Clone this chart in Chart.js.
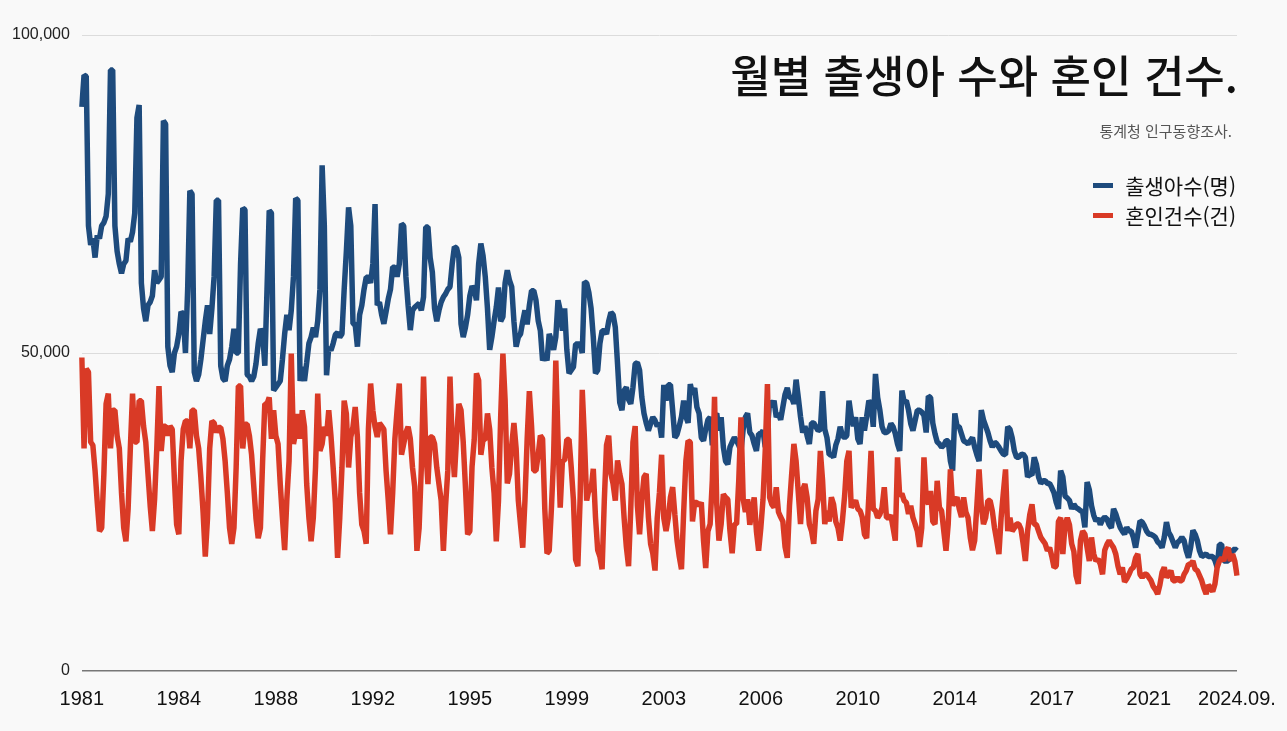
<!DOCTYPE html>
<html lang="ko">
<head>
<meta charset="UTF-8">
<title>월별 출생아 수와 혼인 건수</title>
<script src="https://cdn.jsdelivr.net/npm/chart.js"></script>
<style>
    html, body { margin: 0; padding: 0; background: #f9f9f9; }
    #wrap { position: relative; width: 1287px; height: 731px; }
    #title {
        position: absolute; right: 49px; top: 52px;
        font-family: "Noto Sans CJK KR", "Noto Sans", sans-serif;
        font-size: 44px; line-height: 1; font-weight: 500; color: #111;
        white-space: nowrap;
    }
    #source {
        position: absolute; right: 55px; top: 123px;
        font-family: "Noto Sans CJK KR", sans-serif;
        font-size: 15px; line-height: 1; color: #555; white-space: nowrap;
    }
    #legend {
        position: absolute; right: 51px; top: 170px;
        font-family: "Noto Sans CJK KR", sans-serif;
        font-size: 21px; color: #111;
    }
    #legend div { display: flex; align-items: center; height: 30px; }
    #legend span.mark { display: inline-block; width: 20px; height: 5px; margin-right: 12px; }
</style>
</head>
<body>
<div id="wrap">
    <canvas id="chart"></canvas>
    <div id="title">월별 출생아 수와 혼인 건수.</div>
    <div id="source">통계청 인구동향조사.</div>
    <div id="legend">
        <div><span class="mark" style="background:#1e4b7d"></span>출생아수(명)</div>
        <div><span class="mark" style="background:#d93a26"></span>혼인건수(건)</div>
    </div>
</div>

<script>
    // monthly values, thousands, 1981.01 ~ 2024.09
    const births = [
        88.7, 93.7, 93.5, 70, 67, 68, 65, 68.5, 68, 70, 70.5, 71.5,          // 1981
        75, 94.5, 94.5, 70, 66, 64, 62.5, 64, 64.5, 68, 67.5, 69,            // 1982
        72, 87, 89, 61, 57, 55, 57.5, 58, 59, 63, 61, 61.5,                  // 1983
        62, 86.5, 86, 51, 48, 47, 50, 51, 53, 56.5, 56, 50,                  // 1984
        60, 75.5, 75, 47, 45.6, 46.6, 49, 52, 55, 57.5, 53, 57,              // 1985
        62, 74, 74, 48, 46, 45.6, 48, 49, 51, 53.8, 50, 50,                  // 1986
        64, 72.8, 72.5, 46.6, 46.3, 45.6, 46.3, 48.3, 51.5, 53.8, 53, 48,    // 1987
        60, 72.4, 72, 44.1, 44.6, 45.1, 45.6, 49, 53, 56, 53.6, 56.7,        // 1988
        62, 74.3, 74, 45.6, 47.8, 45.6, 48.5, 51.5, 52.5, 54, 52.5, 55,      // 1989
        60, 79.5, 70, 46.5, 50.9, 50.4, 51.5, 52.9, 53.2, 52.5, 53, 60,      // 1990
        66, 72.9, 70, 54.6, 54.5, 51, 56, 57.5, 60, 61.9, 61.9, 61,          // 1991
        64, 73.4, 57.5, 58, 56, 54.6, 56.5, 58.5, 60, 63.5, 63.5, 62,        // 1992
        64, 70.3, 70, 62, 57.5, 53.6, 56.7, 57.2, 57.5, 57.8, 56.7, 58.8,    // 1993
        69.8, 69.8, 65, 62.7, 57, 55, 56.7, 58, 58.8, 59.3, 60, 60.4,        // 1994
        64, 66.7, 66.5, 65, 54.6, 52.5, 54, 56, 59, 60.5, 60, 58.3,          // 1995
        64, 67.2, 65.3, 62, 57, 50.5, 52.5, 55, 57.2, 60.3, 55, 55.7,        // 1996
        61, 63, 61.4, 60.4, 55, 51, 52.5, 53, 55, 56.7, 54.5, 57.5,          // 1997
        59.8, 59.8, 58.3, 55.1, 53.5, 48.8, 49.9, 48.8, 53, 52, 50.5, 52.5,  // 1998
        58.3, 56.7, 53.5, 57, 50.5, 46.8, 47.3, 47.8, 51.4, 51.4, 51.4, 50,  // 1999
        61.2, 61, 59.5, 57, 52.5, 46.8, 47.3, 51.5, 53.5, 53.5, 53, 55,      // 2000
        56.4, 56, 54, 48.3, 42.2, 41, 44.1, 44.6, 42.7, 42, 44.6, 48.3,      // 2001
        48.5, 47.3, 43.1, 40.5, 39, 37.8, 38.9, 39.9, 39.4, 38.5, 39, 36.7,  // 2002
        45, 42.5, 45, 45, 41, 36.7, 37.2, 38.5, 40, 42.5, 40, 39,            // 2003
        45.1, 43.5, 44.5, 41.5, 40.5, 36.7, 36.2, 38, 39.5, 39.9, 35.5, 40,  // 2004
        40.5, 37.8, 39.9, 35.2, 33, 32.5, 35.2, 36, 36.7, 36.2, 35.5, 34.6,  // 2005
        38, 39.9, 40.5, 37.5, 37, 35.7, 34.6, 37.3, 37.3, 37.8, 35.2, 38,    // 2006
        42.5, 41.5, 42.5, 39.9, 40.5, 39.5, 41.5, 43.5, 44.5, 43, 43, 42,    // 2007
        45.8, 43, 40, 37.5, 38.5, 37, 35.7, 39, 39, 38.4, 37.8, 38,          // 2008
        44, 38, 36.7, 34, 34, 33.6, 35.5, 36.5, 38.4, 37, 36.7, 37,          // 2009
        42.5, 40, 38.5, 39.9, 36.5, 35.7, 39.9, 37.8, 40, 42.5, 42, 38.4,    // 2010
        46.7, 43, 41, 38.4, 37.5, 37.5, 37.8, 38.9, 38.4, 37.3, 35.7, 34.6,  // 2011
        44.1, 42.3, 42.5, 41, 38.9, 37.8, 39.4, 41, 41, 40.7, 40.2, 37.5,    // 2012
        43.2, 43, 39, 37.3, 36, 35.7, 35.2, 35.5, 36.2, 36.2, 33, 31.5,      // 2013
        40.5, 38.5, 38.4, 37.3, 36.2, 36, 35.7, 36.2, 36.7, 35.2, 34, 33,    // 2014
        41, 39.5, 38.5, 37.5, 36.2, 35.2, 36, 35.7, 35.2, 34.6, 34.1, 34,    // 2015
        38.4, 38, 36.7, 34.6, 33.6, 33.6, 34, 34.1, 33.6, 30.5, 31, 30.8,    // 2016
        33.6, 32.5, 30.5, 29.5, 29.9, 29.9, 29.5, 29.5, 28.8, 28, 26.5, 25.5,// 2017
        31.5, 30.5, 27.5, 27.2, 26.8, 25.5, 26.2, 25.7, 25.5, 25.2, 25, 22.6,// 2018
        29.7, 28.5, 26, 24.5, 23.6, 24, 23, 23.8, 24.2, 23.9, 23, 22.5,      // 2019
        25.5, 24.7, 23.6, 22.6, 22, 21.5, 22.6, 22, 22, 21, 19.4, 21.5,      // 2020
        23.6, 23.4, 22.8, 22, 21.5, 21.5, 21.3, 21, 20.3, 20, 19.4, 21,      // 2021
        23.4, 21.8, 21.2, 20.3, 19.4, 20.2, 20.5, 21, 20.5, 18.9, 17.8, 19.5,// 2022
        22.1, 21.5, 20.5, 18.9, 18, 18.2, 18.4, 18, 18, 18, 17.4, 16.3,      // 2023
        19.9, 19.9, 17.3, 17.3, 17.3, 18.4, 18.9, 19.2, 18.9                 // 2024
    ];

    const marriages = [
        49.3, 35, 47.5, 47, 36, 35.5, 31.5, 26.5, 22, 22.5, 31, 42,          // 1981
        43.6, 35, 41, 41, 37, 35, 28, 22.5, 20.4, 25.5, 35, 43.6,            // 1982
        36, 36, 42.5, 42.5, 38.5, 36, 31, 26, 22, 27, 35, 44.8,              // 1983
        34.6, 38.5, 38.5, 37, 38.5, 38, 30, 23, 21.5, 33, 38, 39.3,          // 1984
        39.3, 35, 41, 41, 37, 35, 30.4, 25, 18, 24, 35, 39.3,                // 1985
        39, 37.5, 38.3, 38.3, 36.5, 33, 28, 22.5, 20, 22.5, 32, 44.8,        // 1986
        44.8, 35, 38.8, 38.8, 37, 34, 29, 24, 20.9, 22.5, 33, 42,            // 1987
        42, 43, 36.5, 41, 37, 35.7, 29.4, 24, 19, 27, 33, 49.9,              // 1988
        35.7, 37.5, 40.4, 36.5, 41, 38.4, 29.4, 24.1, 20.4, 24.1, 32, 43.6,  // 1989
        34.6, 35.7, 38.4, 37, 41, 37, 32, 26.5, 17.8, 24.1, 32, 42.5,        // 1990
        40.4, 32, 36.8, 38.4, 41.5, 36.8, 28, 23, 22, 20, 38, 45.2,          // 1991
        41, 38.4, 36.8, 39, 38.5, 38, 31.5, 26.8, 21.5, 28, 36.5, 41,        // 1992
        45.2, 34, 35.7, 37.5, 38.4, 36.5, 32, 29, 18.9, 22.5, 32, 46.3,      // 1993
        35, 29.4, 36.8, 36.8, 35.7, 32, 29.4, 26.8, 18.9, 26, 31.5, 46.3,    // 1994
        35.7, 30.5, 36.8, 42, 41, 36, 29, 21.5, 22, 32.1, 36.4, 46.8,        // 1995
        45.7, 34, 36.4, 36.4, 40.5, 38, 32, 28, 20.4, 26.8, 40, 49.9,        // 1996
        42.6, 29.5, 31, 35.5, 39, 35, 26.8, 23, 19.4, 26.8, 36.4, 44,        // 1997
        38.5, 31.5, 31.5, 34, 37, 36.5, 25.5, 18.5, 18.9, 25.5, 33.6, 48.8,  // 1998
        36.4, 25.7, 33.1, 33.1, 36.4, 36.4, 32, 26.8, 17.5, 16.5, 26.8, 44.2,// 1999
        36.4, 26.8, 28.5, 28.5, 31.8, 24.2, 19, 18, 16, 26.8, 35.5, 37,      // 2000
        31, 29.4, 26.8, 33.1, 31, 29.4, 24, 19.5, 16.5, 25.5, 36, 38.5,      // 2001
        26, 21.5, 26.8, 30.5, 31, 24.2, 20, 18.5, 15.8, 24, 28, 34,          // 2002
        24, 22, 24, 27.3, 28.9, 24.6, 20.5, 18, 16, 25, 33, 36.2,            // 2003
        36, 23.5, 26.5, 26.5, 26, 26.5, 20.5, 16.2, 22, 23.1, 30, 43.1,      // 2004
        26.2, 20.5, 23.1, 27.8, 27.3, 27, 22, 18.5, 23.1, 23.1, 30, 39.9,    // 2005
        27, 25, 27, 23, 25.2, 27.3, 22, 18.9, 22.5, 27, 34.6, 45.1,          // 2006
        27.3, 26.2, 25.7, 28.9, 25, 24.2, 23.5, 19.5, 17.8, 26, 31, 35.7,    // 2007
        33, 28, 23.1, 28.5, 29.4, 27.3, 23.1, 22, 20, 25.2, 27, 34.6,        // 2008
        30, 23.1, 25.2, 23.5, 27.3, 26.2, 23.5, 22.5, 20.5, 23.6, 27.5, 33,  // 2009
        34.6, 25.7, 26.3, 26.8, 25.5, 25.2, 24.2, 21.5, 20.9, 27.5, 34.6, 25.5, // 2010
        25.2, 24.1, 24.6, 25.7, 28.9, 24.1, 24.1, 24.5, 22.5, 20.5, 33.6, 27.5, // 2011
        27.9, 26.8, 26.5, 24.7, 26, 24.1, 23.1, 22, 19.5, 22.5, 33.6, 27.3,  // 2012
        26.2, 28.3, 23.5, 23.1, 29.9, 25.7, 25.2, 22, 18.9, 23.1, 31.7, 26,  // 2013
        26.8, 27.3, 25.5, 24.2, 27.3, 25, 24.1, 21, 19, 20.5, 26, 31.7,      // 2014
        26, 23.1, 24.1, 26.8, 26.8, 25.2, 22.5, 20.5, 18.4, 24.1, 28, 31.7,  // 2015
        22, 24.1, 22, 22.5, 23.1, 23.1, 22.3, 20, 17.3, 22, 24.6, 26.2,      // 2016
        23.1, 23, 22, 21, 20.5, 20, 18.9, 19.4, 18, 16.3, 16.5, 23.5,        // 2017
        24.1, 18.4, 23, 24.1, 23, 20, 18.8, 15, 13.7, 20.5, 22, 21.5,        // 2018
        19.4, 17.3, 21, 18.4, 17.3, 17.6, 16.8, 15.2, 19, 19.9, 20.5, 19.9,  // 2019
        19.4, 18.4, 16.5, 15.2, 16.3, 14, 14.5, 15.2, 16, 16.3, 17.8, 18.4,  // 2020
        15.2, 14.7, 15.2, 15.2, 14.7, 14.2, 13.3, 12.8, 12.1, 13.5, 15.5, 16.3, // 2021
        14.7, 15.2, 15.8, 14.2, 14.2, 14.7, 14.2, 14.2, 15.2, 15.8, 16.8, 16.8, // 2022
        17.3, 16, 15.8, 15, 14.2, 13, 12.1, 13.5, 13.1, 12.5, 13.7, 16.3,    // 2023
        17.3, 17.8, 17.3, 18.9, 19.4, 17.3, 18.4, 17.3, 15                   // 2024
    ];

    // which month positions get a label on the x axis, and what it says
    const tickIndex = [0, 44, 88, 132, 176, 220, 264, 308, 352, 396, 440, 484, 524];
    const tickLabels = ['1981', '1984', '1988', '1992', '1995', '1999', '2003',
        '2006', '2010', '2014', '2017', '2021', '2024.09.'];

    // month categories 1981.01 .. 2024.09
    const months = [];
    for (let y = 1981; y <= 2024; y++) {
        for (let m = 1; m <= 12; m++) {
            if (y === 2024 && m > 9) break;
            months.push(y + '.' + String(m).padStart(2, '0'));
        }
    }

    const myChart = new Chart(document.getElementById('chart'), {
        type: 'line',
        data: {
            labels: months,
            datasets: [{
                label: '출생아수(명)',
                data: births.map(v => v * 1000),
                borderColor: '#1e4b7d',
                borderWidth: 5.5,
                order: 1
            }, {
                label: '혼인건수(건)',
                data: marriages.map(v => v * 1000),
                borderColor: '#d93a26',
                borderWidth: 5.5,
                order: 0
            }]
        },
        options: {
            responsive: true,
            maintainAspectRatio: false,
            animation: false,
            layout: { autoPadding: false, padding: { left: 0, right: 50, top: 35, bottom: 12 } },
            elements: {
                point: { radius: 0 },
                line: { tension: 0, borderJoinStyle: 'bevel', borderCapStyle: 'butt' }
            },
            plugins: { legend: { display: false }, tooltip: { enabled: false } },
            scales: {
                x: {
                    grid: { display: false },
                    border: { display: false },
                    afterBuildTicks: (scale) => {
                        scale.ticks = tickIndex.map(v => ({ value: v }));
                    },
                    // let the end labels hang over the edges instead of shrinking the plot
                    afterFit: (scale) => {
                        scale.paddingLeft = 0;
                        scale.paddingRight = 0;
                    },
                    ticks: {
                        autoSkip: false,
                        maxRotation: 0,
                        padding: 8,
                        color: '#111',
                        font: { family: '"Liberation Sans", sans-serif', size: 20 },
                        callback: (val, i) => tickLabels[i]
                    }
                },
                y: {
                    min: 0,
                    max: 100000,
                    border: { display: false },
                    grid: {
                        drawTicks: false,
                        color: (ctx) => ctx.tick.value === 0 ? '#777' : '#dcdcdc',
                        lineWidth: (ctx) => ctx.tick.value === 0 ? 1.5 : 1
                    },
                    ticks: {
                        stepSize: 50000,
                        padding: 12,
                        color: '#222',
                        font: { family: '"Liberation Sans", sans-serif', size: 16 },
                        callback: (v) => v.toLocaleString('en-US')
                    }
                }
            }
        }
    });
</script>
</body>
</html>
